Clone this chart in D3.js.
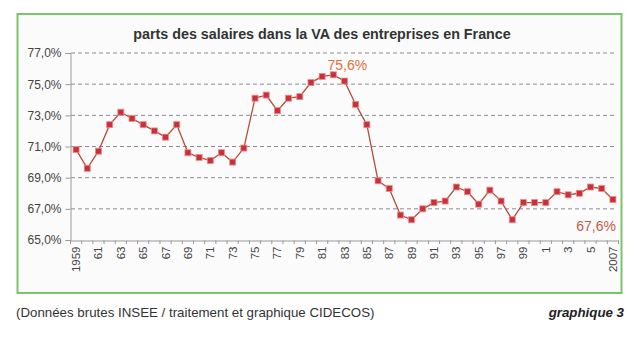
<!DOCTYPE html>
<html><head><meta charset="utf-8">
<script src="https://cdn.jsdelivr.net/npm/d3@7/dist/d3.min.js"></script>
<style>
html,body{margin:0;padding:0;background:#fff;}
svg{display:block;font-family:Arial,"Liberation Sans",sans-serif;}
</style></head><body>
<svg id="c" width="640" height="338"></svg>
<script>
const years = d3.range(1959, 2008);
const values = [70.8,69.6,70.7,72.4,73.2,72.8,72.4,72.0,71.6,72.4,
  70.6,70.3,70.1,70.6,70.0,70.9,74.1,74.3,73.3,74.1,
  74.2,75.1,75.5,75.6,75.2,73.7,72.4,68.8,68.3,66.6,
  66.3,67.0,67.4,67.5,68.4,68.1,67.3,68.2,67.5,66.3,
  67.4,67.4,67.4,68.1,67.9,68.0,68.4,68.3,67.6];
const yTicks = [65,67,69,71,73,75,77];
const title = "parts des salaires dans la VA des entreprises en France";
const source = "(Données brutes INSEE / traitement et graphique CIDECOS)";
const chartNo = "graphique 3";
const yearLabel = y => y===1959||y===2007 ? String(y) : String(y%100);

const svg = d3.select("#c");
// frame
svg.append("rect").attr("x",17.5).attr("y",14).attr("width",604).attr("height",279)
  .attr("fill","#fbfbfb").attr("stroke","#7cc46c").attr("stroke-width",2);
svg.append("text").attr("x",322).attr("y",39).attr("text-anchor","middle")
  .attr("font-size",14.3).attr("font-weight","bold").attr("fill","#333").text(title);

const x = d3.scaleBand().domain(years).range([70.5,618.5]);
const y = d3.scaleLinear().domain([65,77]).range([240,53]);

// gridlines
svg.append("g").selectAll("line").data(yTicks.filter(t=>t>65)).join("line")
  .attr("x1",71).attr("x2",617).attr("y1",d=>y(d)).attr("y2",d=>y(d))
  .attr("stroke","#8a8a9a").attr("stroke-width",1).attr("stroke-dasharray","4,3");

// y axis
const ya = svg.append("g").attr("transform","translate(70.5,0)")
  .call(d3.axisLeft(y).tickValues(yTicks).tickSize(5).tickFormat(d=>d3.format(".1f")(d).replace(".",",")+"%"));
ya.select(".domain").attr("stroke","#999");
ya.selectAll(".tick line").attr("stroke","#999");
ya.selectAll("text").attr("font-size",12).attr("fill","#444").attr("font-family","Arial, Liberation Sans, sans-serif").attr("dx",-1);

// x axis
const xa = svg.append("g").attr("transform","translate(0,240.5)")
  .call(d3.axisBottom(x).tickSize(0).tickFormat(d=>(d-1959)%2===0?yearLabel(d):""));
xa.select(".domain").attr("stroke","#999");
xa.selectAll("text").attr("font-size",11.5).attr("fill","#444").attr("font-family","Arial, Liberation Sans, sans-serif")
  .attr("transform","rotate(-90)").attr("text-anchor","end").attr("x",-6).attr("y",0).attr("dy","0.35em");
// tick marks between categories
svg.append("g").selectAll("line").data(years.concat([2008])).join("line")
  .attr("x1",d=>d===2008?x(2007)+x.bandwidth():x(d)).attr("x2",d=>d===2008?x(2007)+x.bandwidth():x(d))
  .attr("y1",240.5).attr("y2",244).attr("stroke","#999");

// line & markers
const cx = d => x(d)+x.bandwidth()/2;
const pts = years.map((yr,i)=>({yr,v:values[i]}));
svg.append("path").datum(pts)
  .attr("d",d3.line().x(d=>cx(d.yr)).y(d=>y(d.v)))
  .attr("fill","none").attr("stroke","#b24c34").attr("stroke-width",1.3);
svg.append("g").selectAll("rect").data(pts).join("rect")
  .attr("x",d=>cx(d.yr)-3).attr("y",d=>y(d.v)-3).attr("width",6).attr("height",6)
  .attr("fill","#c8303c").attr("stroke","#f08a8a").attr("stroke-width",0.8);

// annotations
svg.append("text").attr("x",cx(1982)+14).attr("y",70).attr("text-anchor","middle")
  .attr("font-size",14).attr("fill","#e0703c").text("75,6%");
svg.append("text").attr("x",616).attr("y",231).attr("text-anchor","end")
  .attr("font-size",14).attr("fill","#c25a48").text("67,6%");

// footer
svg.append("text").attr("x",16).attr("y",317).attr("font-size",13.3).attr("fill","#333").text(source);
svg.append("text").attr("x",624).attr("y",317).attr("text-anchor","end").attr("font-size",13.3)
  .attr("font-weight","bold").attr("font-style","italic").attr("fill","#222").text(chartNo);
</script>
</body></html>
